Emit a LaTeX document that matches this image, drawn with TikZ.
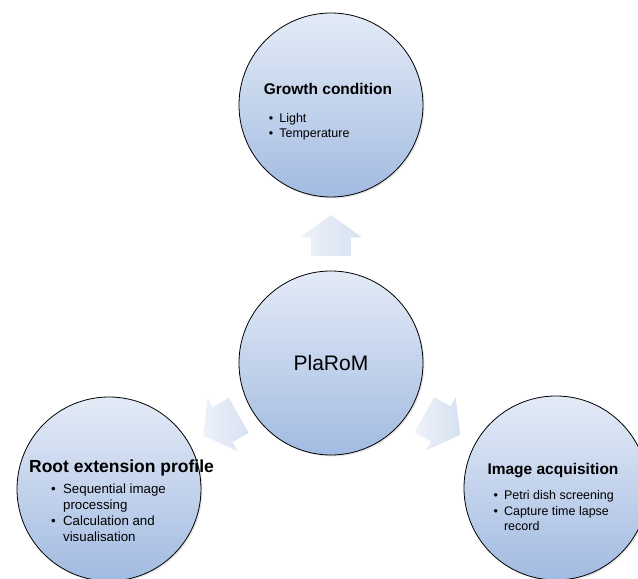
\documentclass[tikz,border=0pt]{standalone}
\usepackage{fontspec}
\setmainfont{Liberation Sans}
\usetikzlibrary{positioning,shapes.arrows,shadows}

\definecolor{discTop}{RGB}{228,235,247}
\definecolor{discBottom}{RGB}{162,187,225}
\definecolor{arrowLight}{RGB}{238,242,249}
\definecolor{arrowDark}{RGB}{214,225,241}

\newcommand{\titlefont}{\fontsize{15.5}{18}\selectfont\bfseries}
\newcommand{\bigtitlefont}{\fontsize{17.5}{20}\selectfont\bfseries}
\newcommand{\bul}[2][10.5pt]{\makebox[#1][l]{\textbullet}#2}
\newcommand{\cont}[2][10.5pt]{\hspace*{#1}#2}

\tikzset{
    disc/.style={circle, draw=black, line width=0.8pt, minimum size=184pt, inner sep=0pt,
        top color=discTop, bottom color=discBottom,
        drop shadow={opacity=0.2, shadow xshift=1.5pt, shadow yshift=-1.5pt}},
    blurb/.style={align=left, inner sep=0pt, font=\fontsize{12.5}{15.5}\selectfont},
    fatarrow/.style={single arrow, draw=none, inner xsep=0pt, inner ysep=20pt,
        minimum height=41pt, single arrow head extend=10.5pt, single arrow tip angle=108,
        left color=arrowLight, right color=arrowDark, sloped, allow upside down, pos=0.38}
}

\begin{document}
\begin{tikzpicture}[on grid]
    \useasboundingbox (-331pt,-216pt) rectangle (307pt,363pt);
    \node [disc] (plarom) {\fontsize{21}{25}\selectfont PlaRoM};
    \node [disc, above=258pt of plarom] (growth) {};
    \node [disc, below left=126pt and 222pt of plarom] (rootext) {};
    \node [disc, below right=125pt and 225pt of plarom] (imgacq) {};
    \node [blurb, xshift=-3pt, yshift=-6.5pt] (growth-txt) at (growth)
        {{\titlefont Growth condition}\\[12.5pt]\hspace*{5pt}\bul{Light}\\\hspace*{5pt}\bul{Temperature}};
    \node [blurb, xshift=12.5pt, yshift=-12pt, font=\fontsize{13.3}{16}\selectfont] (rootext-txt) at (rootext)
        {{\bigtitlefont Root extension profile}\\[5pt]\hspace*{22pt}\bul[12pt]{Sequential image}\\
         \hspace*{22pt}\cont[12pt]{processing}\\\hspace*{22pt}\bul[12pt]{Calculation and}\\
         \hspace*{22pt}\cont[12pt]{visualisation}};
    \node [blurb, xshift=-3pt, yshift=-9pt] (imgacq-txt) at (imgacq)
        {{\titlefont Image acquisition}\\[10pt]\hspace*{6pt}\bul{Petri dish screening}\\
         \hspace*{6pt}\bul{Capture time lapse}\\\hspace*{6pt}\cont{record}};
    \path (plarom) -- node [fatarrow] (up-arrow) {} (growth);
    \path (plarom) -- node [fatarrow] (left-arrow) {} (rootext);
    \path (plarom) -- node [fatarrow] (right-arrow) {} (imgacq);
\end{tikzpicture}
\end{document}
